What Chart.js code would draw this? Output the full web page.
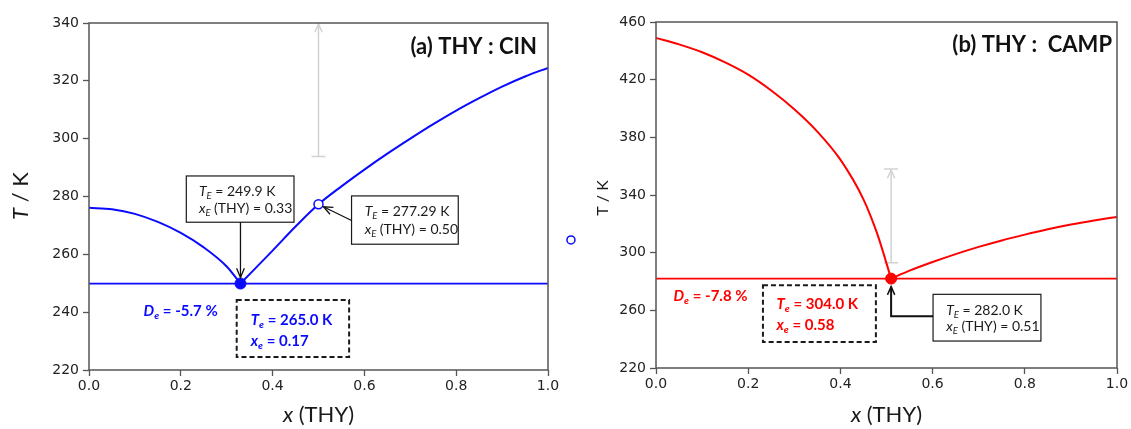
<!DOCTYPE html>
<html>
<head>
<meta charset="utf-8">
<script src="https://cdn.jsdelivr.net/npm/chart.js@4.4.1/dist/chart.umd.min.js"></script>
<style>
  html, body { margin: 0; padding: 0; background: #fff; }
  #wrap { position: relative; width: 1131px; height: 429px; }
  #wrap canvas { position: absolute; left: 0; top: 0; }
</style>
</head>
<body>
<div id="wrap">
  <canvas id="chartCin" width="1131" height="429"></canvas>
  <canvas id="chartCamp" width="1131" height="429"></canvas>
</div>
<script>
// ---------- (a) THY : CIN ----------
const cinLeftX  = [0.00, 0.05, 0.10, 0.15, 0.20, 0.25, 0.30, 0.33];
const cinLeftT  = [276.1, 275.6, 274.0, 271.2, 267.4, 262.4, 255.8, 249.9];
const cinRightX = [0.33, 0.40, 0.45, 0.50, 0.55, 0.60, 0.65, 0.70, 0.75, 0.80, 0.85, 0.90, 0.95, 1.00];
const cinRightT = [249.9, 261.3, 269.6, 277.29, 283.5, 289.3, 294.8, 300.0, 305.0, 309.7, 314.0, 318.0, 321.5, 324.5];
const cinEutectic   = { x: 0.33, T: 249.9 };
const cinPeritectic = { x: 0.50, T: 277.29 };
const cinExperiment = { x: 1.05, T: 265.0 };
const cinGrayBar    = { x: 0.50, from: 293.8, to: 340 };
const cinXTicks = [0, 0.2, 0.4, 0.6, 0.8, 1.0];
const cinYTicks = [220, 240, 260, 280, 300, 320, 340];

// ---------- (b) THY : CAMP ----------
const campLeftX  = [0.00, 0.05, 0.10, 0.15, 0.20, 0.25, 0.30, 0.35, 0.40, 0.45, 0.48, 0.51];
const campLeftT  = [449.0, 444.5, 439.0, 432.0, 423.5, 412.5, 399.5, 384.0, 364.5, 337.0, 313.0, 282.0];
const campRightX = [0.51, 0.55, 0.60, 0.65, 0.70, 0.75, 0.80, 0.85, 0.90, 0.95, 1.00];
const campRightT = [282.0, 287.5, 293.5, 299.0, 304.0, 308.5, 312.5, 316.2, 319.5, 322.3, 324.8];
const campEutectic = { x: 0.51, T: 282.0 };
const campGrayBar  = { x: 0.51, from: 293.0, to: 358.0 };
const campXTicks = [0, 0.2, 0.4, 0.6, 0.8, 1.0];
const campYTicks = [220, 260, 300, 340, 380, 420, 460];

const BLUE = '#0a0aff';
const RED = '#ff0000';
const FRAME = '#555555';
const TXT = '#1a1a1a';

const pts = (xs, ys) => xs.map((x, i) => ({ x, y: ys[i] }));

// ---------- drawing helpers ----------
function fontOf(s) {
  const size = s.sub ? s.size * 0.68 : s.size;
  return `${s.italic ? 'italic ' : ''}${s.bold ? 'bold ' : ''}${size}px ${s.family || 'Lato'}`;
}
function richWidth(ctx, segs) {
  let w = 0;
  for (const s of segs) { ctx.font = fontOf(s); w += ctx.measureText(s.t).width; }
  return w;
}
function drawRich(ctx, x, yc, segs, align) {
  const w = richWidth(ctx, segs);
  let cx = align === 'right' ? x - w : align === 'center' ? x - w / 2 : x;
  const base = yc + segs[0].size * 0.36;
  ctx.textBaseline = 'alphabetic';
  ctx.textAlign = 'left';
  for (const s of segs) {
    ctx.font = fontOf(s);
    ctx.fillStyle = s.color || TXT;
    ctx.fillText(s.t, cx, base + (s.sub ? s.size * 0.22 : 0));
    cx += ctx.measureText(s.t).width;
  }
}
function S(t, base, extra) { return Object.assign({ t }, base, extra || {}); }

function chevron(ctx, tx, ty, ang, len, spread) {
  ctx.beginPath();
  ctx.moveTo(tx - len * Math.cos(ang - spread), ty - len * Math.sin(ang - spread));
  ctx.lineTo(tx, ty);
  ctx.lineTo(tx - len * Math.cos(ang + spread), ty - len * Math.sin(ang + spread));
  ctx.stroke();
}
function grayBar(chart, bar, topCap) {
  const { ctx, scales } = chart;
  const x = scales.x.getPixelForValue(bar.x);
  const y0 = scales.y.getPixelForValue(bar.from);
  const y1 = scales.y.getPixelForValue(bar.to);
  ctx.save();
  ctx.strokeStyle = '#d2d2d2';
  ctx.lineWidth = 1.5;
  ctx.beginPath();
  ctx.moveTo(x, y0); ctx.lineTo(x, y1);
  ctx.moveTo(x - 7, y0); ctx.lineTo(x + 7, y0);
  if (topCap) { ctx.moveTo(x - 7, y1); ctx.lineTo(x + 7, y1); }
  ctx.stroke();
  chevron(ctx, x, y1 + 1, -Math.PI / 2, 9, 0.42);
  ctx.restore();
}
function boxRect(chart, x0, x1, tTop, tBot, dashed) {
  const { ctx, scales } = chart;
  const a = scales.x.getPixelForValue(x0), b = scales.x.getPixelForValue(x1);
  const t = scales.y.getPixelForValue(tTop), u = scales.y.getPixelForValue(tBot);
  ctx.save();
  ctx.fillStyle = '#ffffff';
  ctx.fillRect(a, t, b - a, u - t);
  ctx.strokeStyle = '#1a1a1a';
  if (dashed) { ctx.lineWidth = 2; ctx.setLineDash([5, 3]); }
  else { ctx.lineWidth = 1.2; }
  ctx.strokeRect(a, t, b - a, u - t);
  ctx.restore();
}
function textAt(chart, x, T, segs, align) {
  drawRich(chart.ctx, chart.scales.x.getPixelForValue(x), chart.scales.y.getPixelForValue(T), segs, align || 'left');
}
function frame(chart) {
  const { ctx, chartArea: a } = chart;
  ctx.save();
  ctx.strokeStyle = FRAME;
  ctx.lineWidth = 1.5;
  ctx.strokeRect(a.left, a.top, a.right - a.left, a.bottom - a.top);
  ctx.restore();
}
function axisTitles(chart, xSegs, ySegs, yTitleX, yTitleY) {
  const { ctx, chartArea: a } = chart;
  drawRich(ctx, (a.left + a.right) / 2, 414, xSegs, 'center');
  ctx.save();
  ctx.translate(yTitleX, yTitleY);
  ctx.rotate(-Math.PI / 2);
  drawRich(ctx, 0, 0, ySegs, 'center');
  ctx.restore();
}
// open marker that sits beyond the x range, placed through the scales
function openMarker(chart, p, color) {
  const { ctx, scales } = chart;
  const x = scales.x.getPixelForValue(p.x), y = scales.y.getPixelForValue(p.T);
  ctx.save();
  ctx.beginPath();
  ctx.arc(x, y, 4, 0, Math.PI * 2);
  ctx.fillStyle = '#ffffff';
  ctx.fill();
  ctx.lineWidth = 1.5;
  ctx.strokeStyle = color;
  ctx.stroke();
  ctx.restore();
}

// label pieces
const boxTxt = { size: 14, color: TXT };
function eLabel(T, x, color, base) {
  return [
    [S('T', base, { italic: true, color }), S('e', base, { italic: true, sub: true, color }), S(' = ' + T + ' K', base, { color })],
    [S('x', base, { italic: true, color }), S('e', base, { italic: true, sub: true, color }), S(' = ' + x, base, { color })]
  ];
}
function ELabel(T, x) {
  return [
    [S('T', boxTxt, { italic: true }), S('E', boxTxt, { italic: true, sub: true }), S(' = ' + T + ' K', boxTxt)],
    [S('x', boxTxt, { italic: true }), S('E', boxTxt, { italic: true, sub: true }), S(' (THY) = ' + x, boxTxt)]
  ];
}
function DLabel(v, color) {
  const b = { size: 15, bold: true, color };
  return [S('D', b, { italic: true }), S('e', b, { italic: true, sub: true }), S(' = ' + v + ' %', b)];
}

function scalesFor(xTicks, yTicks, yWidth, xHeight) {
  const tickFont = { family: 'DejaVu Sans', size: 14 };
  return {
    x: {
      type: 'linear', min: xTicks[0], max: xTicks[xTicks.length - 1],
      afterBuildTicks: s => { s.ticks = xTicks.map(v => ({ value: v })); },
      afterFit: s => { s.height = xHeight; },
      ticks: { font: tickFont, color: '#222', padding: 2, maxRotation: 0, callback: v => Number(v).toFixed(1) },
      grid: { drawOnChartArea: false, drawTicks: true, tickLength: 6, tickColor: FRAME, tickWidth: 1.3 },
      border: { display: false }
    },
    y: {
      type: 'linear', min: yTicks[0], max: yTicks[yTicks.length - 1],
      afterBuildTicks: s => { s.ticks = yTicks.map(v => ({ value: v })); },
      afterFit: s => { s.width = yWidth; },
      ticks: { font: tickFont, color: '#222', padding: 4, callback: v => String(v) },
      grid: { drawOnChartArea: false, drawTicks: true, tickLength: 6, tickColor: FRAME, tickWidth: 1.3 },
      border: { display: false }
    }
  };
}
const commonOpts = {
  responsive: false, animation: false, events: [],
  plugins: { legend: { display: false }, tooltip: { enabled: false } }
};
const curve = (data, color) => ({
  data, borderColor: color, borderWidth: 2, pointRadius: 0, fill: false,
  cubicInterpolationMode: 'monotone'
});

// ---------- chart (a) ----------
new Chart(document.getElementById('chartCin'), {
  type: 'line',
  data: {
    datasets: [
      { data: [{ x: cinEutectic.x, y: cinEutectic.T }], showLine: false, pointRadius: 5.5,
        pointBackgroundColor: BLUE, pointBorderColor: BLUE, pointBorderWidth: 1 },
      { data: [{ x: cinPeritectic.x, y: cinPeritectic.T }], showLine: false, pointRadius: 4.5,
        pointBackgroundColor: '#ffffff', pointBorderColor: BLUE, pointBorderWidth: 1.5 },
      curve(pts(cinLeftX, cinLeftT), BLUE),
      curve(pts(cinRightX, cinRightT), BLUE),
      { data: [{ x: 0, y: cinEutectic.T }, { x: 1, y: cinEutectic.T }], borderColor: BLUE, borderWidth: 1.8, pointRadius: 0 }
    ]
  },
  options: Object.assign({}, commonOpts, {
    layout: { padding: { left: 0, top: 23, right: 1131 - 548, bottom: 0 } },
    scales: scalesFor(cinXTicks, cinYTicks, 89, 59)
  }),
  plugins: [{
    id: 'cinOverlay',
    beforeDatasetsDraw(chart) { grayBar(chart, cinGrayBar, false); },
    afterDatasetsDraw(chart) {
      const { ctx, scales } = chart;
      frame(chart);
      openMarker(chart, cinExperiment, BLUE);
      // eutectic call-out
      boxRect(chart, 0.212, 0.4466, 287.1, 271.1, false);
      const l1 = ELabel('249.9', '0.33');
      textAt(chart, 0.2394, 281.9, l1[0]);
      textAt(chart, 0.2394, 276.0, l1[1]);
      const ex = scales.x.getPixelForValue(cinEutectic.x);
      ctx.save();
      ctx.strokeStyle = '#111'; ctx.lineWidth = 1.3;
      ctx.beginPath();
      ctx.moveTo(ex, scales.y.getPixelForValue(271.1));
      const tipY = scales.y.getPixelForValue(cinEutectic.T) - 6;
      ctx.lineTo(ex, tipY);
      ctx.stroke();
      chevron(ctx, ex, tipY, Math.PI / 2, 10, 0.4);
      ctx.restore();
      // peritectic call-out
      boxRect(chart, 0.572, 0.8045, 280.2, 263.5, false);
      const l2 = ELabel('277.29', '0.50');
      textAt(chart, 0.6005, 275.0, l2[0]);
      textAt(chart, 0.6005, 268.8, l2[1]);
      const sx = scales.x.getPixelForValue(0.572), sy = scales.y.getPixelForValue(271.7);
      const cx = scales.x.getPixelForValue(cinPeritectic.x), cy = scales.y.getPixelForValue(cinPeritectic.T);
      const ang = Math.atan2(cy - sy, cx - sx);
      const tx = cx - 5.5 * Math.cos(ang), ty = cy - 5.5 * Math.sin(ang);
      ctx.save();
      ctx.strokeStyle = '#111'; ctx.lineWidth = 1.3;
      ctx.beginPath(); ctx.moveTo(sx, sy); ctx.lineTo(tx, ty); ctx.stroke();
      chevron(ctx, tx, ty, ang, 10, 0.4);
      ctx.restore();
      // experimental eutectic
      boxRect(chart, 0.3218, 0.5667, 244.2, 224.5, true);
      const e = eLabel('265.0', '0.17', BLUE, { size: 15, bold: true });
      textAt(chart, 0.3524, 237.6, e[0]);
      textAt(chart, 0.3524, 230.3, e[1]);
      textAt(chart, 0.119, 240.7, DLabel('-5.7', BLUE));
      // panel title
      drawRich(ctx, 537, 46, [S('(a) THY : CIN', { size: 22, bold: true, color: '#111' })], 'right');
      axisTitles(chart,
        [S('x', { size: 22, italic: true, color: TXT }), S(' (THY)', { size: 22, color: TXT })],
        [S('T', { size: 22, italic: true, color: TXT }), S(' / K', { size: 22, color: TXT })],
        20, 196);
    }
  }]
});

// ---------- chart (b) ----------
new Chart(document.getElementById('chartCamp'), {
  type: 'line',
  data: {
    datasets: [
      { data: [{ x: campEutectic.x, y: campEutectic.T }], showLine: false, pointRadius: 5.5,
        pointBackgroundColor: RED, pointBorderColor: RED, pointBorderWidth: 1 },
      curve(pts(campLeftX, campLeftT), RED),
      curve(pts(campRightX, campRightT), RED),
      { data: [{ x: 0, y: campEutectic.T }, { x: 1, y: campEutectic.T }], borderColor: RED, borderWidth: 1.8, pointRadius: 0 }
    ]
  },
  options: Object.assign({}, commonOpts, {
    layout: { padding: { left: 0, top: 22, right: 14, bottom: 0 } },
    scales: scalesFor(campXTicks, campYTicks, 656, 61)
  }),
  plugins: [{
    id: 'campOverlay',
    beforeDatasetsDraw(chart) { grayBar(chart, campGrayBar, true); },
    afterDatasetsDraw(chart) {
      const { ctx, scales } = chart;
      frame(chart);
      // eutectic call-out with elbow arrow
      boxRect(chart, 0.601, 0.835, 271.1, 238.7, false);
      const l1 = ELabel('282.0', '0.51');
      textAt(chart, 0.6295, 260.5, l1[0]);
      textAt(chart, 0.6295, 248.9, l1[1]);
      const ex = scales.x.getPixelForValue(campEutectic.x);
      const tipY = scales.y.getPixelForValue(campEutectic.T) + 8;
      ctx.save();
      ctx.strokeStyle = '#111'; ctx.lineWidth = 2;
      ctx.beginPath();
      ctx.moveTo(scales.x.getPixelForValue(0.601), scales.y.getPixelForValue(255.9));
      ctx.lineTo(ex, scales.y.getPixelForValue(255.9));
      ctx.lineTo(ex, tipY);
      ctx.stroke();
      ctx.lineWidth = 1.5;
      chevron(ctx, ex, tipY, -Math.PI / 2, 9, 0.42);
      ctx.restore();
      // experimental eutectic
      boxRect(chart, 0.232, 0.477, 277.4, 238.0, true);
      const e = eLabel('304.0', '0.58', RED, { size: 15, bold: true });
      textAt(chart, 0.2614, 264.7, e[0]);
      textAt(chart, 0.2614, 250.1, e[1]);
      textAt(chart, 0.0379, 270.5, DLabel('-7.8', RED));
      drawRich(ctx, 1112, 44.4, [S('(b) THY :  CAMP', { size: 22, bold: true, color: '#111' })], 'right');
      axisTitles(chart,
        [S('x', { size: 22, italic: true, color: TXT }), S(' (THY)', { size: 22, color: TXT })],
        [S('T / K', { size: 16, color: TXT })],
        602, 198);
    }
  }]
});
</script>
</body>
</html>
